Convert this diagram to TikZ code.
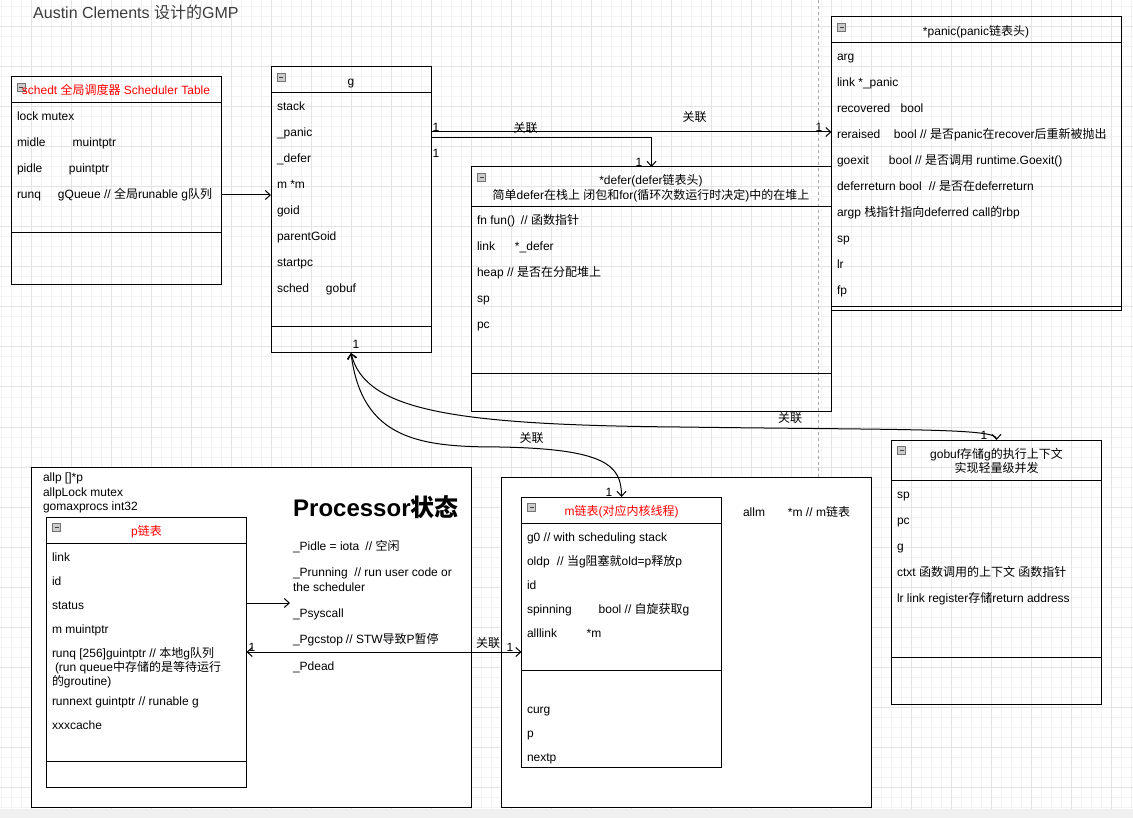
\documentclass[tikz,border=0pt]{standalone}
\usepackage{fontspec}
\setmainfont{Liberation Sans}
\newfontfamily\cjkfont{Noto Sans CJK SC}
\usetikzlibrary{arrows.meta,calc}
\definecolor{gridmajor}{HTML}{E4E4E4}
\definecolor{gridminor}{HTML}{F3F3F3}
\definecolor{pagebreak}{HTML}{A8A8A8}
\definecolor{scrollbar}{HTML}{F0F0F0}
\definecolor{titlegray}{HTML}{3C3C3C}

% Han characters are set in the CJK font
\XeTeXinterchartokenstate=1
\newXeTeXintercharclass\hanclass
\count255=32
\loop \XeTeXcharclass\count255=0 \ifnum\count255<126 \advance\count255 by 1 \repeat
\count255="4E00
\loop \XeTeXcharclass\count255=\hanclass \ifnum\count255<"9FFF \advance\count255 by 1 \repeat
\XeTeXinterchartoks 0 \hanclass = {\begingroup\cjkfont}
\XeTeXinterchartoks 4095 \hanclass = {\begingroup\cjkfont}
\XeTeXinterchartoks \hanclass 0 = {\endgroup}
\XeTeXinterchartoks \hanclass 4095 = {\endgroup}

\newcommand\rowfont{\fontsize{12}{14}\selectfont}
\newcommand\field[2]{\makebox[#1pt][l]{#2}}
% name, x, y, width, height, header line, second line
\newcommand\classbox[7]{%
	\node[classbox, minimum width=#4, minimum height=#5] (#1) at (#2,#3) {};
	\draw[boxline] ($(#1.north west)+(0,#6)$) -- ($(#1.north east)+(0,#6)$);
	\draw[boxline] ($(#1.north west)+(0,#7)$) -- ($(#1.north east)+(0,#7)$);
	\draw[fill=black!20, draw=black!55, line width=0.8pt] ($(#1.north west)+(6,6)$) rectangle ++(8,8);
	\draw[black!75, line width=0.8pt] ($(#1.north west)+(8,10)$) -- ++(4,0);
}

\begin{document}
\begin{tikzpicture}[x=1pt, y=-1pt,
		classbox/.style={draw, line width=1pt, anchor=north west, inner sep=0pt, outer sep=0pt},
		frame/.style={draw, fill=white, line width=1pt, anchor=north west, inner sep=0pt, outer sep=0pt},
		boxline/.style={line width=1pt},
		row/.style={anchor=base west, inner sep=0pt, outer sep=0pt, font=\rowfont},
		head/.style={anchor=base, inner sep=0pt, outer sep=0pt, font=\rowfont},
		lab/.style={anchor=base, inner sep=0pt, outer sep=0pt, font=\rowfont},
		link/.style={line width=1pt, >={Straight Barb[length=5pt,width=9pt]}}]
		%%%%% START %%%%%
		
		\useasboundingbox (0,0) rectangle (1133,818);
		\fill[white] (0,0) rectangle (1133,818);
		\foreach \gx in {1,11,...,1131} \draw[gridminor, line width=1pt] (\gx,0) -- (\gx,818);
		\foreach \gy in {7,17,...,817} \draw[gridminor, line width=1pt] (0,\gy) -- (1133,\gy);
		\foreach \gx in {31,71,...,1111} \draw[gridmajor, line width=1pt] (\gx,0) -- (\gx,818);
		\foreach \gy in {27,67,...,787} \draw[gridmajor, line width=1pt] (0,\gy) -- (1133,\gy);
		\fill[scrollbar] (0,809) rectangle (1133,818);
		\draw[pagebreak, dash pattern=on 3pt off 3pt, line width=1pt] (818,0) -- (818,809);
		
		\node[anchor=base west, inner sep=0pt, text=titlegray, font=\fontsize{16}{18}\selectfont] (title) at (33,18.5) {Austin Clements 设计的GMP};
		
		% outer frames
		\node[frame, minimum width=440, minimum height=340] (pframe) at (31.5,467) {};
		\node[frame, minimum width=370, minimum height=330] (mframe) at (501.5,477) {};
		
		% schedt
		\classbox{schedt}{11}{77}{210}{208}{26}{156}
		\node[head, text=red] (schedtHead) at (116,95) {schedt 全局调度器 Scheduler Table};
		\node[row] (sLock) at (17,121) {lock mutex};
		\node[row] (sMidle) at (17,147) {\field{55.7}{midle}muintptr};
		\node[row] (sPidle) at (17,173) {\field{52}{pidle}puintptr};
		\node[row] (sRunq) at (17,199) {\field{41}{runq}gQueue // 全局runable g队列};
		
		% g
		\classbox{g}{271}{67}{160}{286}{26}{260}
		\node[head] (gHead) at (351,85.5) {g};
		\node[row] (gStack) at (277,111) {stack};
		\node[row] (gPanic) at (277,137) {\_panic};
		\node[row] (gDefer) at (277,163) {\_defer};
		\node[row] (gM) at (277,189) {m *m};
		\node[row] (gGoid) at (277,215) {goid};
		\node[row] (gParent) at (277,241) {parentGoid};
		\node[row] (gStartpc) at (277,267) {startpc};
		\node[row] (gSched) at (277,293) {\field{49}{sched}gobuf};
		
		% defer
		\classbox{defer}{471.5}{167}{360}{244}{40}{207}
		\node[head] (deferHead) at (651,185) {*defer(defer链表头)};
		\node[head] (deferHead2) at (651,199.5) {简单defer在栈上 闭包和for(循环次数运行时决定)中的在堆上};
		\node[row] (dFn) at (477,225) {\field{44}{fn fun()}// 函数指针};
		\node[row] (dLink) at (477,251) {\field{38}{link}*\_defer};
		\node[row] (dHeap) at (477,277) {heap // 是否在分配堆上};
		\node[row] (dSp) at (477,303) {sp};
		\node[row] (dPc) at (477,329) {pc};
		
		% panic
		\classbox{panic}{831.5}{17}{290}{294}{26}{290}
		\node[head] (panicHead) at (976,35.5) {*panic(panic链表头)};
		\node[row] (pnArg) at (837,61) {arg};
		\node[row] (pnLink) at (837,87) {link *\_panic};
		\node[row] (pnRecovered) at (837,113) {\field{63.7}{recovered}bool};
		\node[row] (pnReraised) at (837,139) {\field{57}{reraised}bool // 是否panic在recover后重新被抛出};
		\node[row] (pnGoexit) at (837,165) {\field{52}{goexit}bool // 是否调用 runtime.Goexit()};
		\node[row] (pnDeferreturn) at (837,191) {\field{92}{deferreturn bool}// 是否在deferreturn};
		\node[row] (pnArgp) at (837,217) {argp 栈指针指向deferred call的rbp};
		\node[row] (pnSp) at (837,243) {sp};
		\node[row] (pnLr) at (837,269) {lr};
		\node[row] (pnFp) at (837,295) {fp};
		
		% gobuf
		\classbox{gobuf}{891.5}{440}{210}{264}{40}{217}
		\node[head] (gobufHead) at (996.5,458) {gobuf存储g的执行上下文};
		\node[head] (gobufHead2) at (996.5,472) {实现轻量级并发};
		\node[row] (bSp) at (897,498) {sp};
		\node[row] (bPc) at (897,524) {pc};
		\node[row] (bG) at (897,550) {g};
		\node[row] (bCtxt) at (897,576) {ctxt 函数调用的上下文 函数指针};
		\node[row] (bLr) at (897,602) {lr link register存储return address};
		
		% p
		\node[row] (allp) at (43,481.5) {allp []*p};
		\node[row] (allpLock) at (43,496) {allpLock mutex};
		\node[row] (gomaxprocs) at (43,510) {gomaxprocs int32};
		\classbox{p}{46.5}{517}{200}{270}{26}{244}
		\node[head, text=red] (pHead) at (146.5,535.5) {p链表};
		\node[row] (pLink) at (52,561) {link};
		\node[row] (pId) at (52,585) {id};
		\node[row] (pStatus) at (52,609) {status};
		\node[row] (pM) at (52,633) {m muintptr};
		\node[row] (pRunq) at (52,657) {runq [256]guintptr // 本地g队列};
		\node[row] (pRunq2) at (55,671) {(run queue中存储的是等待运行};
		\node[row] (pRunq3) at (52,685) {的groutine)};
		\node[row] (pRunnext) at (52,705) {runnext guintptr // runable g};
		\node[row] (pCache) at (52,729) {xxxcache};
		
		\node[anchor=base west, inner sep=0pt, font=\fontsize{24}{28}\selectfont\bfseries] (procTitle) at (293,516) {Processor状态};
		\node[row] (sIdle) at (293,550) {\field{72.5}{\_Pidle = iota}// 空闲};
		\node[row] (sRunning) at (293,576) {\field{61.5}{\_Prunning}// run user code or};
		\node[row] (sRunning2) at (293,591) {the scheduler};
		\node[row] (pSyscall) at (293,617) {\_Psyscall};
		\node[row] (sGcstop) at (293,643) {\field{53}{\_Pgcstop}// STW导致P暂停};
		\node[row] (sDead) at (293,670) {\_Pdead};
		
		% m
		\classbox{m}{521.5}{497}{200}{270}{26}{173}
		\node[head, text=red] (mHead) at (621.5,515.5) {m链表(对应内核线程)};
		\node[row] (mG0) at (527,541) {g0 // with scheduling stack};
		\node[row] (mOldp) at (527,565) {\field{30}{oldp}// 当g阻塞就old=p释放p};
		\node[row] (mId) at (527,589) {id};
		\node[row] (mSpinning) at (527,613) {\field{71.7}{spinning}bool // 自旋获取g};
		\node[row] (mAlllink) at (527,637) {\field{59.7}{alllink}*m};
		\node[row] (mCurg) at (527,713) {curg};
		\node[row] (mP) at (527,737) {p};
		\node[row] (mNextp) at (527,761) {nextp};
		\node[row] (allm) at (743,516) {\field{45}{allm}*m // m链表};
		
		% links
		\coordinate (sysIn) at (290,603);
		\draw[link,->] (schedt.east |- 0,195) -- (g.west |- 0,195);
		\draw[link,->] (g.east |- 0,132) -- (panic.west |- 0,132);
		\draw[link,->] (g.east |- 0,138) -| (defer.north);
		\draw[link,<->] (p.east |- 0,652) -- (m.west |- 0,652);
		\draw[link,->] (p.east |- 0,603) -- (sysIn);
		\draw[link,<->] (g.south) .. controls (365,410) and (450,425) .. (680,427) .. controls (900,430) and (996.5,428) .. (gobuf.north);
		\draw[link,<->] (g.south) .. controls (362,440) and (420,447) .. (500,447) .. controls (605,449) and (621.5,465) .. (m.north);
		
		\node[lab] (n1) at (436,132) {1};
		\node[lab] (n2) at (436,158) {1};
		\node[lab] (n3) at (819,132) {1};
		\node[lab] (n4) at (639,166.5) {1};
		\node[lab] (n5) at (356,349) {1};
		\node[lab] (n6) at (609,496.5) {1};
		\node[lab] (n7) at (252,651) {1};
		\node[lab] (n8) at (510,651) {1};
		\node[lab] (n9) at (984,439.5) {1};
		\node[lab] (r1) at (525.5,132.5) {关联};
		\node[lab] (r2) at (694.5,121.5) {关联};
		\node[lab] (r3) at (790,422) {关联};
		\node[lab] (r4) at (531.5,442.5) {关联};
		\node[lab] (r5) at (488,647.5) {关联};
		
		%%%%% END %%%%%
	\end{tikzpicture}
\end{document}
